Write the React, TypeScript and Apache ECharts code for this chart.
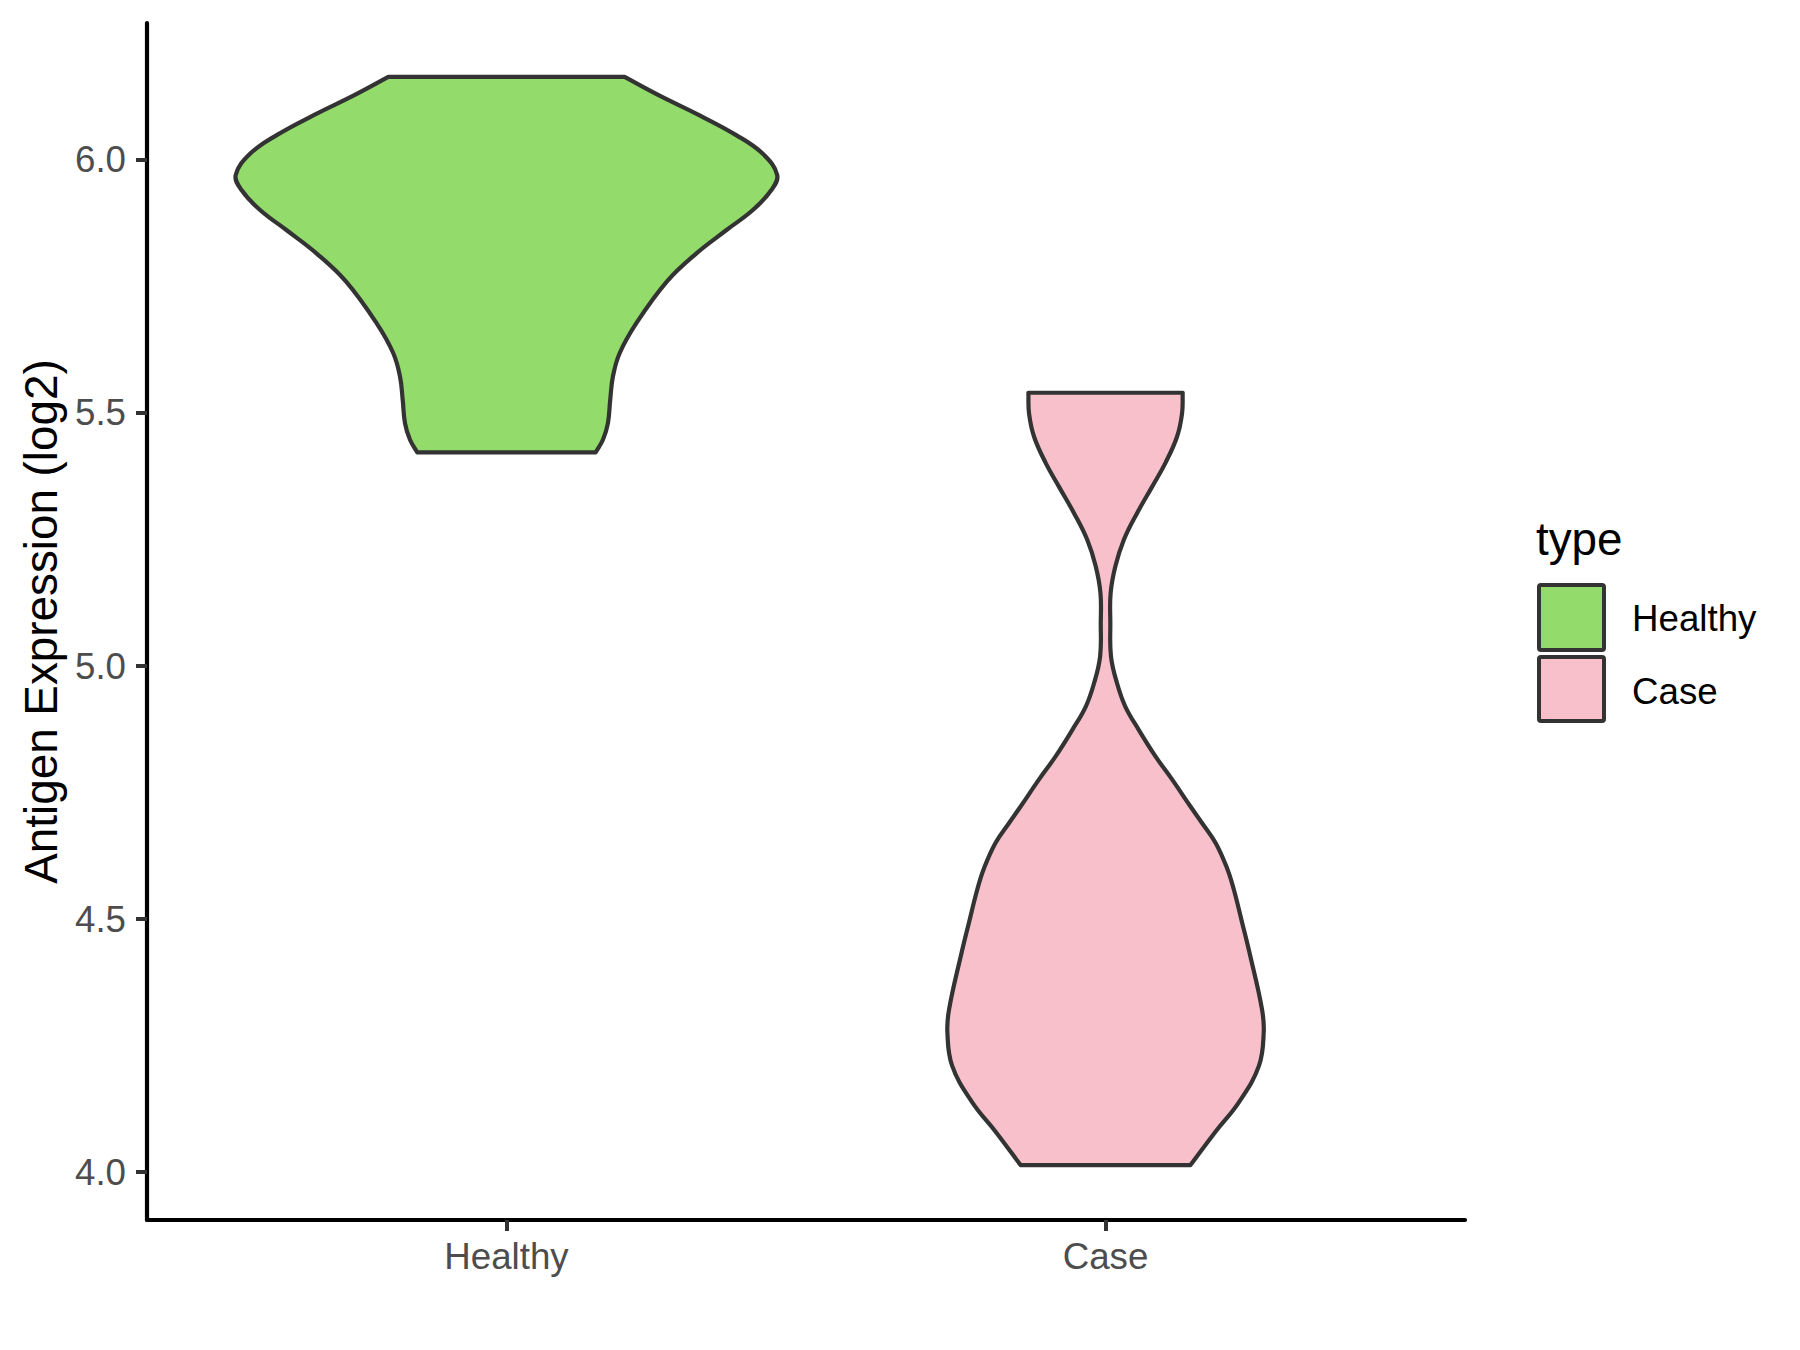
import React, { useEffect, useRef } from "react";
import * as echarts from "echarts";

// ---- data ----
const categories = ["Healthy", "Case"];
const yTicks = [4.0, 4.5, 5.0, 5.5, 6.0];
const yRange = [3.9055, 6.2705];
const xRange = [0.4, 2.6];

// violin outline: expression value (log2) and half-width (in category units), top to bottom
const healthyValues = [6.164, 6.127, 6.088, 6.049, 6.012, 5.970, 5.940, 5.901, 5.861, 5.815, 5.760, 5.677, 5.618, 5.572, 5.526, 5.480, 5.447, 5.422];
const healthyHalfWidths = [0.1972, 0.2556, 0.3224, 0.3835, 0.428, 0.4519, 0.4419, 0.4113, 0.3668, 0.3167, 0.268, 0.2166, 0.1889, 0.1777, 0.1732, 0.1694, 0.161, 0.1488];

const caseValues = [5.540, 5.499, 5.453, 5.401, 5.354, 5.302, 5.249, 5.197, 5.144, 5.085, 5.019, 4.966, 4.920, 4.874, 4.822, 4.776, 4.723, 4.690, 4.650, 4.600, 4.559, 4.493, 4.427, 4.322, 4.276, 4.210, 4.138, 4.080, 4.014];
const caseHalfWidths = [0.1288, 0.1277, 0.1193, 0.0998, 0.0776, 0.0526, 0.0304, 0.0164, 0.0085, 0.0080, 0.0091, 0.0192, 0.033, 0.0554, 0.0831, 0.111, 0.1415, 0.161, 0.184, 0.203, 0.214, 0.228, 0.2416, 0.2611, 0.264, 0.256, 0.2225, 0.1835, 0.1418];

const fillColors = ["#93DB6B", "#F7C0CB"];
const outline = "#333333";
const FONT = "'Liberation Sans', Arial, Helvetica, sans-serif";

function makeRenderItem(center: number, n: number, fill: string) {
  return (params: any, api: any) => {
    if (params.dataIndexInside !== 0) return null;
    const left: number[][] = [];
    const right: number[][] = [];
    for (let i = 0; i < n; i++) {
      const v = api.value(1, i);
      const hw = api.value(2, i);
      left.push(api.coord([center - hw, v]));
      right.push(api.coord([center + hw, v]));
    }
    const pts = [
      left[0], left[0],
      ...left.slice(1, n - 1),
      left[n - 1], left[n - 1],
      right[n - 1], right[n - 1],
      ...right.slice(1, n - 1).reverse(),
      right[0], right[0],
    ];
    return {
      type: "polygon",
      shape: { points: pts, smooth: 0.4 },
      style: { fill, stroke: outline, lineWidth: 4.2, lineJoin: "round" },
    };
  };
}

export default function App() {
  const ref = useRef<HTMLDivElement>(null);
  useEffect(() => {
    if (!ref.current) return;
    const chart = echarts.init(ref.current, null, { renderer: "svg" });
    const groups = [
      { name: categories[0], values: healthyValues, hws: healthyHalfWidths },
      { name: categories[1], values: caseValues, hws: caseHalfWidths },
    ];
    chart.setOption({
      animation: false,
      backgroundColor: "#FFFFFF",
      grid: { left: 147, right: 335, top: 23, bottom: 130 },
      xAxis: {
        type: "value",
        min: xRange[0],
        max: xRange[1],
        splitLine: { show: false },
        axisLine: { show: true, onZero: false, lineStyle: { color: "#000000", width: 4.2 } },
        axisTick: { show: true, length: 11, customValues: [1, 2], lineStyle: { color: "#333333", width: 4 } },
        axisLabel: {
          customValues: [1, 2],
          formatter: (v: number) => categories[Math.round(v) - 1] ?? "",
          color: "#4D4D4D",
          fontSize: 36.7,
          fontFamily: FONT,
          margin: 18,
        },
      },
      yAxis: {
        type: "value",
        min: yRange[0],
        max: yRange[1],
        name: "Antigen Expression (log2)",
        nameLocation: "middle",
        nameGap: 80,
        nameTextStyle: { color: "#000000", fontSize: 45.8, fontFamily: FONT },
        splitLine: { show: false },
        axisLine: { show: true, onZero: false, lineStyle: { color: "#000000", width: 4.2 } },
        axisTick: { show: true, length: 11, customValues: yTicks, lineStyle: { color: "#333333", width: 4 } },
        axisLabel: {
          customValues: yTicks,
          formatter: (v: number) => v.toFixed(1),
          color: "#4D4D4D",
          fontSize: 36.7,
          fontFamily: FONT,
          margin: 21,
        },
      },
      series: groups.map((g, gi) => ({
        type: "custom",
        name: g.name,
        coordinateSystem: "cartesian2d",
        encode: { x: 0, y: 1 },
        renderItem: makeRenderItem(gi + 1, g.values.length, fillColors[gi]),
        data: g.values.map((v, i) => [gi + 1, v, g.hws[i]]),
        silent: true,
      })),
      graphic: [
        { type: "text", x: 1536, y: 539, style: { text: "type", fill: "#000000", fontSize: 45.8, fontFamily: FONT, verticalAlign: "middle", align: "left" } },
        { type: "rect", shape: { x: 1539, y: 585, width: 65, height: 65, r: 2 }, style: { fill: fillColors[0], stroke: outline, lineWidth: 4 } },
        { type: "rect", shape: { x: 1539, y: 657, width: 65, height: 64, r: 2 }, style: { fill: fillColors[1], stroke: outline, lineWidth: 4 } },
        { type: "text", x: 1632, y: 618, style: { text: categories[0], fill: "#000000", fontSize: 36.7, fontFamily: FONT, verticalAlign: "middle", align: "left" } },
        { type: "text", x: 1632, y: 691, style: { text: categories[1], fill: "#000000", fontSize: 36.7, fontFamily: FONT, verticalAlign: "middle", align: "left" } },
      ],
    });
    return () => chart.dispose();
  }, []);
  return (
    <div
      ref={ref}
      style={{ position: "fixed", left: 0, top: 0, width: 1800, height: 1350, background: "#FFFFFF" }}
    />
  );
}
